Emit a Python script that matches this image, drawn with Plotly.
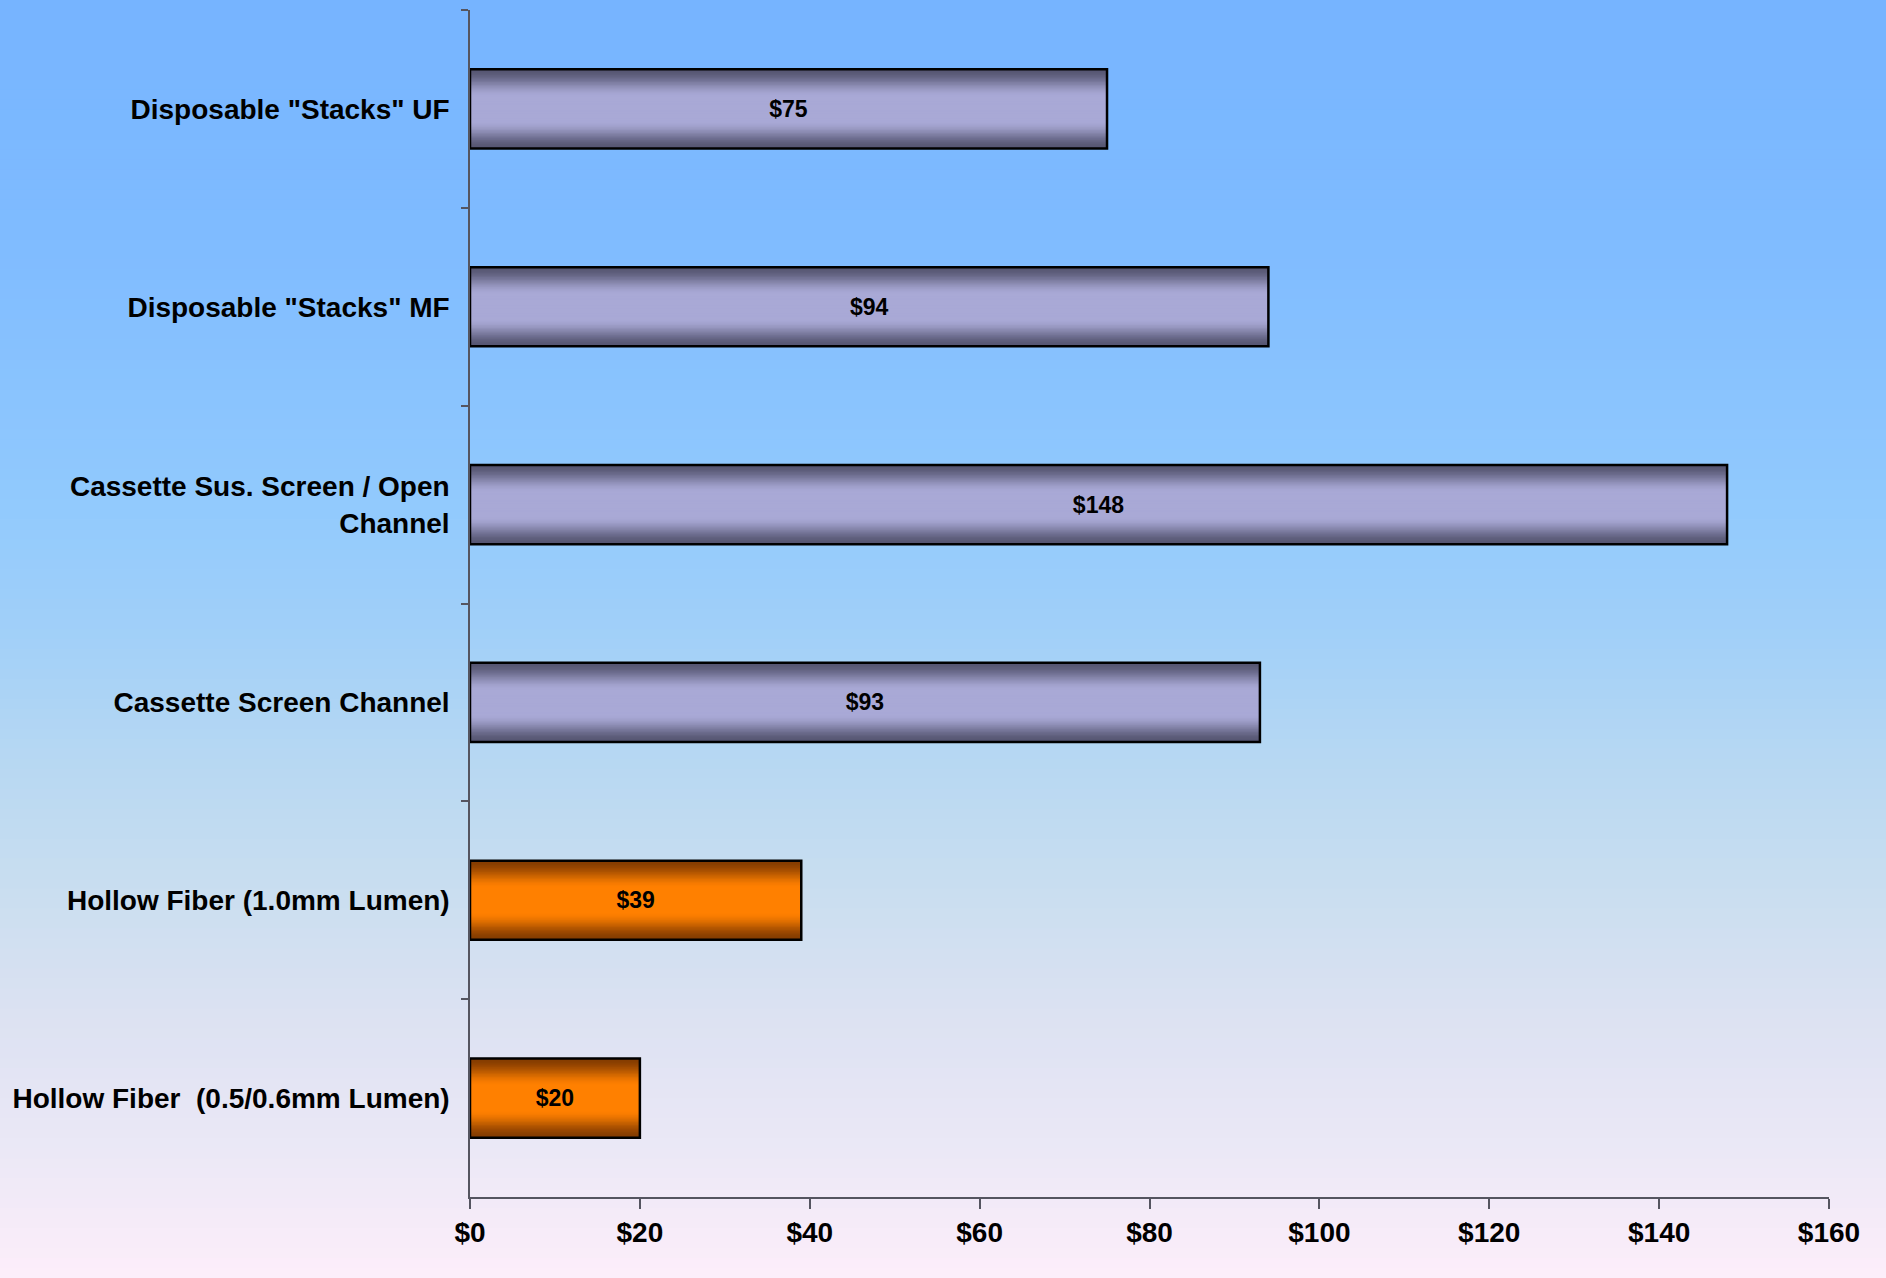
import plotly.graph_objects as go

categories = [
    'Disposable "Stacks" UF',
    'Disposable "Stacks" MF',
    'Cassette Sus. Screen / Open<br>Channel',
    'Cassette Screen Channel',
    'Hollow Fiber (1.0mm Lumen)',
    'Hollow Fiber\u00a0 (0.5/0.6mm Lumen)',
]
costs = [75, 94, 148, 93, 39, 20]
groups = ["cassette", "cassette", "cassette", "cassette", "fiber", "fiber"]
value_labels = ["$75", "$94", "$148", "$93", "$39", "$20"]
tick_vals = [0, 20, 40, 60, 80, 100, 120, 140, 160]
tick_text = ["$0", "$20", "$40", "$60", "$80", "$100", "$120", "$140", "$160"]

W, H = 1886, 1278
ML, MR, MT, MB = 470, 57, 10, 81

# colour ramps (edge colour, centre colour)
ramps = {
    "cassette": ((0x56, 0x56, 0x72), (0xa9, 0xa9, 0xd6)),
    "fiber": ((0x84, 0x3c, 0x00), (0xff, 0x80, 0x00)),
}


def lerp(c0, c1, t):
    return "rgb(%d,%d,%d)" % tuple(round(a + (b - a) * t) for a, b in zip(c0, c1))


def smooth(t):
    t = max(0.0, min(1.0, t))
    return t * t * (3 - 2 * t)


fig = go.Figure()
BAR_W = 0.4
N = 28
for i in range(N):
    frac = i / N
    d = 1 - frac
    t = smooth((1 - d + 0.5 / N) / 0.7)
    colors = [lerp(ramps[g][0], ramps[g][1], t) for g in groups]
    fig.add_trace(go.Bar(
        x=costs, y=categories, orientation="h",
        width=BAR_W * (1 - frac),
        marker=dict(color=colors, line=dict(width=0)),
        hoverinfo="skip", showlegend=False,
    ))

# outline + labels
fig.add_trace(go.Bar(
    x=costs, y=categories, orientation="h", width=BAR_W,
    marker=dict(color="rgba(0,0,0,0)", line=dict(color="black", width=2.5)),
    text=value_labels, textposition="inside", insidetextanchor="middle",
    textfont=dict(family="Liberation Sans, Arial", size=23, color="black", weight="bold"),
    textangle=0, showlegend=False,
))

# background gradient
stops = [
    (0.0, (0x76, 0xb4, 0xff)),
    (0.2, (0x80, 0xbc, 0xff)),
    (0.4, (0x92, 0xca, 0xfd)),
    (0.5, (0xa2, 0xd0, 0xf8)),
    (0.6, (0xb8, 0xd8, 0xf2)),
    (0.7, (0xca, 0xde, 0xf0)),
    (0.8, (0xdd, 0xe2, 0xf2)),
    (0.9, (0xeb, 0xe8, 0xf6)),
    (1.0, (0xfd, 0xee, 0xfa)),
]


def bg_color(f):
    for (f0, c0), (f1, c1) in zip(stops[:-1], stops[1:]):
        if f <= f1:
            return lerp(c0, c1, (f - f0) / (f1 - f0))
    return lerp(stops[-1][1], stops[-1][1], 0)


ph = H - MT - MB
shapes = []
NS = 128
for k in range(NS):
    py0 = H * k / NS
    py1 = H * (k + 1) / NS + 1
    y0 = (H - MB - py0) / ph
    y1 = (H - MB - py1) / ph
    shapes.append(dict(
        type="rect", xref="paper", yref="paper", x0=-1, x1=2, y0=y0, y1=y1,
        fillcolor=bg_color((k + 0.5) / NS), line=dict(width=0), layer="below",
    ))

fig.update_layout(
    width=W, height=H,
    margin=dict(l=ML, r=MR, t=MT, b=MB),
    barmode="overlay",
    paper_bgcolor="#fdeefa",
    plot_bgcolor="rgba(0,0,0,0)",
    shapes=shapes,
    font=dict(family="Liberation Sans, Arial", color="black"),
    xaxis=dict(
        range=[0, 160], tickvals=tick_vals, ticktext=tick_text,
        showgrid=False, zeroline=False, showline=True, linecolor="#555560", linewidth=1.5,
        ticks="outside", ticklen=10, tickcolor="#555560", tickwidth=1.5,
        tickfont=dict(size=28, weight="bold", family="Liberation Sans, Arial"),
    ),
    yaxis=dict(
        type="category", range=[5.5, -0.5],
        showgrid=False, zeroline=False, showline=True, linecolor="#555560", linewidth=1.5,
        ticks="outside", ticklen=7, tickcolor="#555560", tickwidth=1.5, tickson="boundaries",
        tickfont=dict(size=28, weight="bold", family="Liberation Sans, Arial"),
        ticklabelstandoff=13,
    ),
)

fig.write_html(
    "out.html",
    config={"displayModeBar": False},
    post_script="document.body.style.margin='0';document.body.style.padding='0';",
)
